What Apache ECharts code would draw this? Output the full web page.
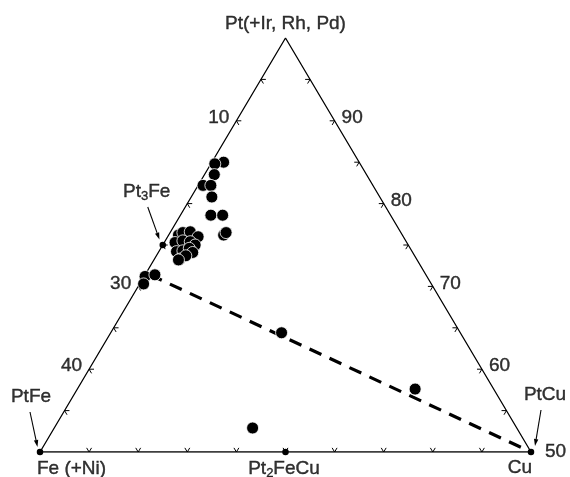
<!DOCTYPE html>
<html><head><meta charset="utf-8">
<script src="https://cdn.jsdelivr.net/npm/echarts@6/dist/echarts.min.js"></script>
<style>html,body{margin:0;padding:0;background:#fff}#c{width:570px;height:477px}</style>
</head><body><div id="c"></div>
<script>
// Compositions in at.% : Fe(+Ni), Cu ; Pt(+Ir,Rh,Pd) = 100 - Fe - Cu
const grainFe = [13.8, 14.8, 15.5, 17.3, 16.5, 17.1, 18.3, 17.1, 18.2, 17.8,
                 22.8, 22.2, 21.4, 20.9, 23.6, 22.7, 22.0, 21.7, 24.0, 23.3, 22.5, 22.4, 24.1, 23.3, 24.3,
                 28.7, 27.6, 29.3,
                 18.2, 8.0, 26.9];
const grainCu = [1.2, 0.4, 1.0, 0.5, 1.3, 2.1, 3.1, 4.3, 5.6, 5.7,
                 1.0, 1.3, 2.0, 3.1, 1.1, 1.8, 2.6, 3.3, 1.8, 2.4, 2.9, 3.5, 2.6, 3.0, 2.5,
                 0.1, 1.0, 0.4,
                 17.4, 34.4, 20.2];

const compoundNames = ['PtFe', 'Pt3Fe', 'Pt2FeCu', 'PtCu'];
const compoundFe = [50, 25, 25, 0];
const compoundCu = [0, 0, 25, 50];

const tieLineFe = [28.1, 0];
const tieLineCu = [0.5, 50];

const vertexNames = ['Fe (+Ni)', 'Pt(+Ir, Rh, Pd)', 'Cu'];
const vertexFe = [50, 0, 0];
const vertexCu = [0, 0, 50];

const edgeTicks = [5, 10, 15, 20, 25, 30, 35, 40, 45];
const leftTickLabels = [10, 30, 40];      // Fe on the Pt–Fe side
const rightTickLabels = [90, 80, 70, 60, 50]; // Pt on the Pt–Cu side

// ---- helpers ----
function toXY(fe, cu) { const pt = 100 - fe - cu; return [cu + pt / 2, pt]; }
const FONT = '"Liberation Sans", Arial, Helvetica, sans-serif';

const grains = grainFe.map((f, i) => toXY(f, grainCu[i]));
const compounds = compoundFe.map((f, i) => toXY(f, compoundCu[i]));
const triangle = [toXY(vertexFe[0], vertexCu[0]), toXY(vertexFe[1], vertexCu[1]), toXY(vertexFe[2], vertexCu[2]), toXY(vertexFe[0], vertexCu[0])];
const tie = tieLineFe.map((f, i) => toXY(f, tieLineCu[i]));

const tickData = [];
edgeTicks.forEach(v => {
  tickData.push([...toXY(v, 0), 0]);          // left side (Cu = 0)
  tickData.push([...toXY(v, 50 - v), 1]);     // bottom side (Pt = 50)
  tickData.push([...toXY(0, v), 2]);          // right side (Fe = 0)
});

const TXT = { color: '#000', textBorderColor: '#000', textBorderWidth: 0.4 };
const rich = {
  n: Object.assign({ fontSize: 19, fontFamily: FONT, lineHeight: 22 }, TXT),
  s: Object.assign({ fontSize: 13, fontFamily: FONT, lineHeight: 12, verticalAlign: 'bottom' }, TXT)
};
const compoundLabelText = ['{n|PtFe}', '{n|Pt}{s|3}{n|Fe}', '{n|Pt}{s|2}{n|FeCu}', '{n|PtCu}'];
const compoundLabelOffset = [[-9, -55], [-16, -53], [-1.5, 17], [14, -57]];
const vertexLabelOffset = [[31.5, 17], [0, -14], [-11, 16]];
const arrowGeom = [ // tail and head offsets in pixels from the compound point
  { tail: [-10, -40], head: [-2.5, -5] },
  { tail: [-15, -38], head: [-3.3, -5.5] },
  null,
  { tail: [10, -42], head: [4, -6] }
];

const labelData = [];
vertexNames.forEach((t, i) => labelData.push({
  value: toXY(vertexFe[i], vertexCu[i]),
  label: { formatter: '{n|' + t + '}', offset: vertexLabelOffset[i] }
}));
compoundNames.forEach((t, i) => labelData.push({
  value: compounds[i],
  label: { formatter: compoundLabelText[i], offset: compoundLabelOffset[i] }
}));

const leftLabelData = leftTickLabels.map(v => ({ value: toXY(v, 0), name: String(v) }));
const rightLabelData = rightTickLabels.map(v => {
  const item = { value: toXY(0, 100 - v), name: String(v) };
  if (v === 50) item.label = { distance: 14, offset: [0, 0] };
  return item;
});

const chart = echarts.init(document.getElementById('c'), null, { renderer: 'canvas' });
chart.setOption({
  animation: false,
  backgroundColor: '#fff',
  grid: { left: 40, right: 39, top: 38, bottom: 25 },
  xAxis: { type: 'value', min: 25, max: 75, show: false },
  yAxis: { type: 'value', min: 50, max: 100, show: false },
  series: [
    {
      type: 'line', data: triangle, symbol: 'none', z: 2,
      lineStyle: { color: '#000', width: 1.3 }
    },
    {
      type: 'line', data: tie, symbol: 'none', z: 2,
      lineStyle: { color: '#000', width: 3.2, type: [13, 9] }
    },
    {
      type: 'custom', z: 3,
      data: tickData,
      encode: { x: 0, y: 1 },
      renderItem: function (params, api) {
        const x = api.value(0), y = api.value(1), side = api.value(2);
        const pt = y, cu = x - y / 2, fe = 100 - pt - cu;
        const d = 0.5;
        let a, b;
        if (side === 0) { a = [fe - d, cu + d]; b = [fe, cu + d]; }
        else if (side === 1) { a = [fe - d, cu]; b = [fe, cu - d]; }
        else { a = [fe + d, cu - d]; b = [fe + d, cu]; }
        const p0 = api.coord([x, y]);
        const pa = api.coord(toXY(a[0], a[1]));
        const pb = api.coord(toXY(b[0], b[1]));
        const st = { stroke: '#000', lineWidth: 1 };
        return { type: 'group', children: [
          { type: 'line', shape: { x1: p0[0], y1: p0[1], x2: pa[0], y2: pa[1] }, style: st },
          { type: 'line', shape: { x1: p0[0], y1: p0[1], x2: pb[0], y2: pb[1] }, style: st }
        ] };
      }
    },
    {
      type: 'scatter', data: grains, z: 5,
      symbolSize: 12,
      itemStyle: { color: '#000', borderColor: '#fff', borderWidth: 0.8, opacity: 1 }
    },
    {
      type: 'scatter', data: compounds, z: 6,
      symbolSize: 6.5,
      itemStyle: { color: '#000', opacity: 1 }
    },
    {
      type: 'custom', z: 6,
      data: compounds.map((c, i) => [c[0], c[1], i]),
      encode: { x: 0, y: 1 },
      renderItem: function (params, api) {
        const g = arrowGeom[api.value(2)];
        if (!g) return null;
        const p = api.coord([api.value(0), api.value(1)]);
        const t = [p[0] + g.tail[0], p[1] + g.tail[1]];
        const h = [p[0] + g.head[0], p[1] + g.head[1]];
        const dx = h[0] - t[0], dy = h[1] - t[1], L = Math.hypot(dx, dy);
        const ux = dx / L, uy = dy / L, nx = -uy, ny = ux;
        const bl = 7, bw = 2.2;
        const bx = h[0] - ux * bl, by = h[1] - uy * bl;
        return { type: 'group', children: [
          { type: 'line', shape: { x1: t[0], y1: t[1], x2: bx, y2: by }, style: { stroke: '#000', lineWidth: 1.1 } },
          { type: 'polygon', shape: { points: [h, [bx + nx * bw, by + ny * bw], [bx - nx * bw, by - ny * bw]] }, style: { fill: '#000' } }
        ] };
      }
    },
    {
      type: 'scatter', data: labelData, symbolSize: 0, z: 7, silent: true,
      label: { show: true, position: 'inside', align: 'center', verticalAlign: 'middle', rich: rich }
    },
    {
      type: 'scatter', data: leftLabelData, symbolSize: 0, z: 7, silent: true,
      label: Object.assign({ show: true, position: 'left', distance: 7, offset: [0, -3], formatter: '{b}',
               fontSize: 19, fontFamily: FONT }, TXT)
    },
    {
      type: 'scatter', data: rightLabelData, symbolSize: 0, z: 7, silent: true,
      label: Object.assign({ show: true, position: 'right', distance: 7, offset: [0, -3], formatter: '{b}',
               fontSize: 19, fontFamily: FONT }, TXT)
    }
  ]
});
</script>
</body></html>
